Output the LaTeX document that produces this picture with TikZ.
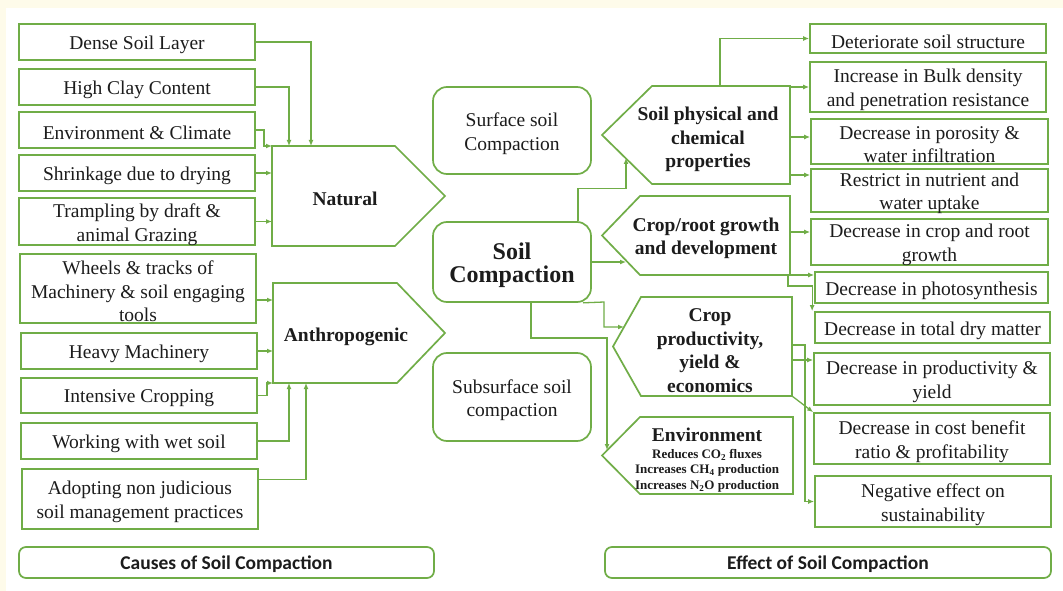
\documentclass[tikz,border=0pt]{standalone}
\usepackage{fontspec}
\setmainfont{Liberation Serif}
\newfontfamily\capfont{Carlito}
\usetikzlibrary{arrows.meta,calc}
\definecolor{grn}{RGB}{112,173,71}
\definecolor{cream}{RGB}{254,251,234}
\definecolor{txt}{RGB}{28,28,28}
% box with text lowered a little: #1 style, #2 width, #3 height, #4 name, #5 centre, #6 text
\newcommand\gbox[6][]{%
  \node[box, minimum width=#2, minimum height=#3, #1] (#4) at (#5) {};
  \node[boxtext, #1] (#4-t) at ([yshift=-3pt]#4.center) {#6};}
\begin{document}
\begin{tikzpicture}[x=1pt,y=-1pt,
  box/.style={draw=grn, line width=1.7pt, fill=white, inner sep=0pt},
  boxtext/.style={align=center, inner sep=0pt, text=txt, font=\fontsize{19.5}{23.5}\selectfont},
  rbox/.style={rounded corners=14pt},
  capbox/.style={draw=grn, line width=1.7pt, rounded corners=7pt, inner sep=0pt, text=txt,
              font=\capfont\bfseries\fontsize{19.5}{22}\selectfont},
  capt/.style={inner sep=0pt, text=txt, font=\capfont\bfseries\fontsize{19.5}{22}\selectfont},
  conn/.style={draw=grn, line width=1.3pt, -{Latex[length=6pt,width=5pt]}},
  shp/.style={draw=grn, line width=1.7pt, fill=white, line join=miter},
  lbl/.style={align=center, text=txt, inner sep=0pt, font=\bfseries\fontsize{19.5}{23.5}\selectfont},
]
\fill[cream] (0,0) rectangle (1063,591);
\fill[white] (6,8) rectangle (1063,591);
\useasboundingbox (0,0) rectangle (1063,591);

% ---------- left boxes ----------
\gbox{236pt}{36pt}{dense}{137,42}{Dense Soil Layer}
\gbox{236pt}{36pt}{clay}{137,87}{High Clay Content}
\gbox{236pt}{36pt}{envc}{137,130}{Environment \& Climate}
\gbox{236pt}{36pt}{shrink}{137,173}{Shrinkage due to drying}
\gbox{236pt}{47pt}{tramp}{137,221.5}{Trampling by draft \&\\animal Grazing}
\gbox{236pt}{69pt}{wheels}{138,288.5}{Wheels \& tracks of\\Machinery \& soil engaging\\tools}
\gbox{236pt}{36pt}{heavy}{139,351}{Heavy Machinery}
\gbox{236pt}{35pt}{intens}{139,395.5}{Intensive Cropping}
\gbox{236pt}{36pt}{wet}{139,441}{Working with wet soil}
\gbox{236pt}{60pt}{adopt}{140,499}{Adopting non judicious\\soil management practices}

% ---------- left pentagons ----------
\draw[shp] (272,146) -- (395,146) -- (445,196) -- (395,246) -- (272,246) -- cycle;
\node[lbl] (natural) at (345,199) {Natural};
\draw[shp] (273,283) -- (397,283) -- (445,333) -- (397,383) -- (273,383) -- cycle;
\node[lbl] (anthro) at (346,336.5) {Anthropogenic};

\coordinate (n1) at (311,146);
\coordinate (n2) at (289,146);
\coordinate (n3) at (272,146);
\coordinate (n4) at (272,173);
\coordinate (n5) at (272,221.5);
\coordinate (a6) at (273,300);
\coordinate (a7) at (273,351);
\coordinate (a8) at (273,383);
\coordinate (a9) at (289,383);
\coordinate (a10) at (306,383);

\draw[conn] (dense.east) -| (n1);
\draw[conn] (clay.east) -| (n2);
\draw[conn] (envc.east) -- ++(8,0) |- (n3);
\draw[conn] (shrink.east) -- (n4);
\draw[conn] (tramp.east) -- (n5);
\draw[conn] (wheels.east |- a6) -- (a6);
\draw[conn] (heavy.east) -- (a7);
\draw[conn] (intens.east) -- ++(9,0) |- (a8);
\draw[conn] (wet.east) -| (a9);
\draw[conn] ([yshift=-11pt]adopt.north east) -| (a10);

% ---------- centre ----------
\gbox[rbox]{158pt}{87pt}{surf}{512,130.5}{Surface soil\\Compaction}
\gbox[rbox]{158pt}{80pt}{scomp}{512,262}{\bfseries\fontsize{24}{29}\selectfont Soil\\\bfseries\fontsize{24}{29}\selectfont Compaction}
\gbox[rbox]{158pt}{88pt}{subs}{512,397}{Subsurface soil\\compaction}

% ---------- right pentagons ----------
\draw[shp] (602,135) -- (652,86) -- (790,86) -- (790,184) -- (652,184) -- cycle;
\node[lbl] (phys) at (708,139.5) {Soil physical and\\chemical\\properties};
\draw[shp] (602,235.5) -- (640,196) -- (790,196) -- (790,275) -- (640,275) -- cycle;
\node[lbl] (croot) at (706,238.5) {Crop/root growth\\and development};
\draw[shp] (613,346.5) -- (641,297) -- (792,297) -- (792,396) -- (641,396) -- cycle;
\node[lbl] (prod) at (710,350.5) {Crop\\productivity,\\yield \&\\economics};
\draw[shp] (602,455.5) -- (640,417) -- (793,417) -- (793,494) -- (640,494) -- cycle;
\node[lbl] (envi) at (707,460) {{\fontsize{19.5}{19.5}\selectfont Environment}\\[-7pt]
  {\fontsize{13}{15.5}\selectfont Reduces CO\textsubscript{2} fluxes}\\[-8pt]
  {\fontsize{13}{15.5}\selectfont Increases CH\textsubscript{4} production}\\[-8pt]
  {\fontsize{13}{15.5}\selectfont Increases N\textsubscript{2}O production}};

% ---------- right boxes ----------
\gbox{236pt}{29pt}{r1}{928,38.5}{Deteriorate soil structure}
\gbox{236pt}{50pt}{r2}{928,87}{Increase in Bulk density\\and penetration resistance}
\gbox{237pt}{45pt}{r3}{929.5,141.5}{Decrease in porosity \&\\water infiltration}
\gbox{237pt}{43pt}{r4}{929.5,190.5}{Restrict in nutrient and\\water uptake}
\gbox{237pt}{46pt}{r5}{929.5,242}{Decrease in crop and root\\growth}
\gbox{233pt}{31pt}{r6}{931.5,287.5}{Decrease in photosynthesis}
\gbox{235pt}{31pt}{r7}{932.5,327.5}{Decrease in total dry matter}
\gbox{236pt}{52pt}{r8}{932,379}{Decrease in productivity \&\\yield}
\gbox{236pt}{51pt}{r9}{932,438.5}{Decrease in cost benefit\\ratio \& profitability}
\gbox{236pt}{51pt}{r10}{933,501.5}{Negative effect on\\sustainability}

% ---------- captions ----------
\node[capbox, minimum width=415pt, minimum height=31pt] (causes)  at (226.5,562.5) {};
\node[capt] (causes-t) at ([yshift=-2pt]causes.center) {Causes of Soil Compaction};
\node[capbox, minimum width=446pt, minimum height=31pt] (effects) at (828,562.5) {};
\node[capt] (effects-t) at ([yshift=-2pt]effects.center) {Effect of Soil Compaction};

% ---------- connectors from Soil Compaction ----------
\coordinate (p1) at (626,158);
\coordinate (p2) at (626,262);
\coordinate (p3) at (624,327);
\coordinate (p4) at (607,450);
\draw[conn] ([xshift=66pt]scomp.north) -- ++(0,-33) -| (p1);
\draw[conn] (scomp.east) -- (p2);
\draw[conn] ([xshift=71pt]scomp.south) -- (604,302) |- (p3);
\draw[conn] ([xshift=19pt]scomp.south) -- ++(0,35) -| (p4);

% ---------- connectors to effects ----------
\coordinate (ph1) at (720,86);
\coordinate (ph2) at (790,87);
\coordinate (ph3) at (790,137);
\coordinate (ph4) at (790,175);
\draw[conn] (ph1) |- (r1.west);
\draw[conn] (ph2) -- (r2.west);
\draw[conn] (ph3) -- (ph3 -| r3.west);
\draw[conn] (ph4) -- (ph4 -| r4.west);

\coordinate (cr1) at (790,232);
\coordinate (cr2) at (790,275);
\coordinate (cr3) at (788,275);
\draw[conn] (cr1) -- (cr1 -| r5.west);
\draw[conn] (cr2) -- (cr2 -| r6.west);
\draw[conn] (cr3) -- ++(0,11) -| ([xshift=-2pt]r7.north west);

\coordinate (pr1) at (792,345);
\coordinate (pr2) at (792,360);
\coordinate (pr3) at (792,396);
\draw[conn] (pr2) -- (pr2 -| r8.west);
\draw[conn] (pr3) -- (r9.north west);
\draw[conn] (pr1) -- ++(13,0) |- (r10.west);
\end{tikzpicture}
\end{document}
